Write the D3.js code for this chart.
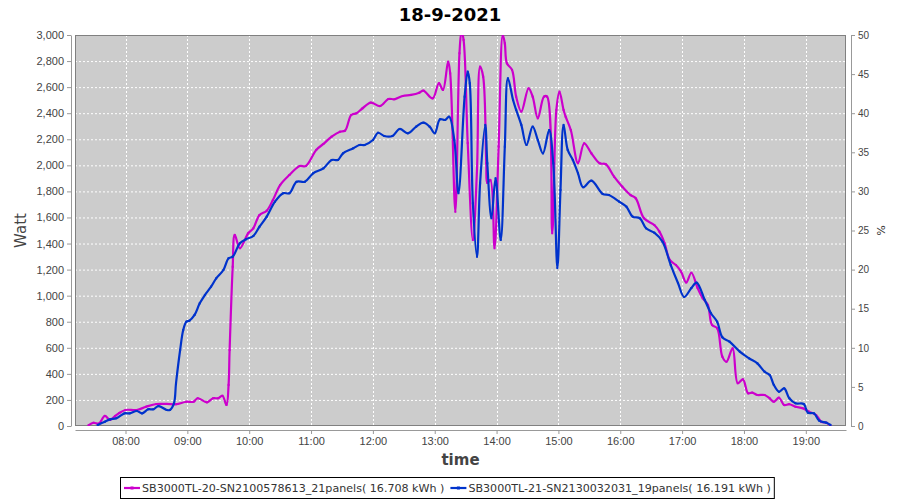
<!DOCTYPE html>
<html>
<head>
<meta charset="utf-8">
<script src="https://cdn.jsdelivr.net/npm/d3@7"></script>
<style>
  body { margin: 0; background: #fff; }
  svg { font-family: "DejaVu Sans", sans-serif; }
  .grid line { stroke: #fff; stroke-dasharray: 2,2; stroke-width: 1; }
  .axis path, .axis line { stroke: #999; }
  .axis text { fill: #444; font-size: 11px; }
  .raxis text { font-family: "Liberation Sans", sans-serif; font-size: 10px; }
</style>
</head>
<body>
<div class="chart-container"></div>
<script>
//! DATA
const TITLE = '18-9-2021';
const DAY = '2021-09-18';
const Y_TICKS = d3.range(0, 3001, 200);
const PCT_TICKS = d3.range(0, 51, 5);
const X_TICKS = ['08:00','09:00','10:00','11:00','12:00','13:00','14:00','15:00','16:00','17:00','18:00','19:00'];
const SERIES_NAMES = [
  'SB3000TL-20-SN2100578613_21panels( 16.708 kWh )',
  'SB3000TL-21-SN2130032031_19panels( 16.191 kWh )'
];

const magentaTimes = ['07:24','07:29','07:34','07:40','07:45','07:50','07:54','08:00','08:11','08:20','08:30','08:40','08:49','08:59','09:06','09:10','09:19','09:25','09:30','09:34','09:38','09:40','09:41','09:44','09:46','09:51','09:59','10:04','10:10','10:17','10:23','10:30','10:39','10:49','10:55','11:05','11:12','11:20','11:28','11:33','11:39','11:44','11:50','11:58','12:07','12:15','12:21','12:29','12:37','12:45','12:49','12:58','13:04','13:08','13:13','13:15','13:20','13:24','13:26','13:28','13:32','13:37','13:41','13:44','13:47','13:50','13:51','13:54','13:58','14:02','14:06','14:08','14:10','14:15','14:19','14:24','14:31','14:35','14:40','14:46','14:49','14:54','14:58','15:01','15:05','15:07','15:12','15:19','15:25','15:32','15:40','15:46','15:54','16:02','16:10','16:15','16:23','16:33','16:38','16:43','16:48','16:54','16:59','17:04','17:09','17:15','17:20','17:25','17:29','17:34','17:39','17:43','17:49','17:54','17:59','18:04','18:08','18:13','18:20','18:25','18:29','18:34','18:39','18:44','18:50','18:57','19:03','19:10','19:15','19:20','19:24'];
const magentaWatts = [5,25,18,77,46,77,100,123,123,148,169,169,167,186,186,213,182,213,213,232,161,315,583,1222,1466,1364,1479,1517,1619,1652,1734,1849,1926,1995,1995,2118,2164,2220,2258,2266,2386,2399,2438,2481,2455,2509,2507,2532,2540,2557,2573,2514,2630,2578,2795,2706,1644,2860,3030,2962,2171,1427,1964,2757,2680,2016,1865,1888,1364,2143,3000,2936,2783,2732,2527,2412,2591,2527,2361,2527,2527,1479,2425,2565,2425,2373,2271,2016,2169,2092,2016,2008,1913,1836,1772,1747,1594,1542,1491,1402,1274,1235,1184,1101,1176,1059,980,928,775,750,532,493,596,328,358,251,256,238,238,212,186,217,161,167,148,136,110,84,33,25,2];

const blueTimes = ['07:33','07:40','07:45','07:51','07:59','08:04','08:11','08:16','08:22','08:27','08:32','08:40','08:43','08:47','08:49','08:53','08:56','08:59','09:02','09:07','09:12','09:17','09:23','09:28','09:35','09:40','09:44','09:51','09:57','10:04','10:10','10:17','10:25','10:33','10:39','10:46','10:54','11:02','11:12','11:20','11:26','11:31','11:41','11:47','11:52','12:00','12:05','12:11','12:19','12:26','12:34','12:42','12:49','12:55','13:00','13:05','13:10','13:14','13:19','13:23','13:29','13:32','13:34','13:37','13:41','13:44','13:49','13:51','13:55','13:59','14:04','14:08','14:11','14:16','14:19','14:24','14:29','14:35','14:40','14:45','14:51','14:55','14:59','15:02','15:05','15:09','15:14','15:19','15:24','15:32','15:43','15:49','15:59','16:06','16:12','16:19','16:25','16:33','16:41','16:49','16:56','17:02','17:09','17:14','17:22','17:28','17:34','17:39','17:46','17:56','18:05','18:13','18:20','18:25','18:29','18:34','18:39','18:44','18:50','18:58','19:02','19:08','19:13','19:20','19:24'];
const blueWatts = [8,33,51,59,97,97,115,97,128,128,153,123,123,174,328,583,737,800,808,852,941,1005,1069,1133,1197,1287,1299,1402,1433,1458,1529,1606,1721,1786,1786,1874,1874,1939,1977,2041,2041,2092,2131,2156,2156,2194,2250,2225,2225,2279,2246,2297,2327,2297,2246,2353,2348,2373,2194,1786,2527,2719,2630,1709,1299,1862,2310,2016,1594,1901,1427,2143,2668,2501,2425,2310,2156,2297,2194,2092,2271,2016,1212,1811,2310,2118,2041,1939,1832,1882,1780,1772,1721,1683,1606,1594,1517,1483,1414,1235,1097,990,1059,1100,967,865,800,681,647,570,519,481,417,391,315,263,289,213,174,169,102,97,41,25,8];

const COLORS = ['#cc00cc', '#0033cc'];

//! CONSTS
const WIDTH = 900;
const HEIGHT = 500;
const PLOT = { left: 75, right: 846, top: 35, bottom: 426 };

const parseTime = d3.timeParse('%Y-%m-%d %H:%M');
const toDate = t => parseTime(`${DAY} ${t}`);

const svg = d3.select('.chart-container')
  .append('svg')
  .attr('width', WIDTH)
  .attr('height', HEIGHT);

// scales
const x = d3.scaleTime()
  .domain([toDate('07:11'), toDate('19:39')])
  .range([PLOT.left, PLOT.right]);
const y = d3.scaleLinear().domain([0, 3000]).range([PLOT.bottom, PLOT.top]);
const yPct = d3.scaleLinear().domain([0, 50]).range([PLOT.bottom, PLOT.top]);

// title
svg.append('text')
  .attr('x', 450).attr('y', 21)
  .attr('text-anchor', 'middle')
  .style('font-size', '18px').style('font-weight', 'bold')
  .text(TITLE);

// plot background
svg.append('rect')
  .attr('x', PLOT.left).attr('y', PLOT.top)
  .attr('width', PLOT.right - PLOT.left).attr('height', PLOT.bottom - PLOT.top)
  .attr('fill', '#cccccc');

// grid
const grid = svg.append('g').attr('class', 'grid');
grid.selectAll('.hg')
  .data(Y_TICKS.slice(1))
  .enter().append('line')
  .attr('x1', PLOT.left).attr('x2', PLOT.right)
  .attr('y1', d => y(d) + .5).attr('y2', d => y(d) + .5);
grid.selectAll('.vg')
  .data(X_TICKS.map(toDate))
  .enter().append('line')
  .attr('y1', PLOT.top).attr('y2', PLOT.bottom)
  .attr('x1', d => Math.round(x(d)) + .5).attr('x2', d => Math.round(x(d)) + .5);

// plot outline
svg.append('rect')
  .attr('x', PLOT.left + .5).attr('y', PLOT.top + .5)
  .attr('width', PLOT.right - PLOT.left - 1).attr('height', PLOT.bottom - PLOT.top - 1)
  .attr('fill', 'none').attr('stroke', '#808080');

// axes
svg.append('g')
  .attr('class', 'axis')
  .attr('transform', `translate(${PLOT.left - 4},0)`)
  .call(d3.axisLeft(y).tickValues(Y_TICKS).tickFormat(d3.format(',')).tickSize(4).tickSizeOuter(0).tickPadding(3));

svg.append('g')
  .attr('class', 'axis')
  .attr('transform', `translate(0,${PLOT.bottom + 4})`)
  .call(d3.axisBottom(x).tickValues(X_TICKS.map(toDate)).tickFormat(d3.timeFormat('%H:%M')).tickSize(4).tickSizeOuter(0).tickPadding(3));

svg.append('g')
  .attr('class', 'axis raxis')
  .attr('transform', `translate(${PLOT.right + 5},0)`)
  .call(d3.axisRight(yPct).tickValues(PCT_TICKS).tickSize(4).tickSizeOuter(0).tickPadding(3));

svg.selectAll('.axis .domain').attr('stroke', '#999');

// axis labels
svg.append('text')
  .attr('transform', `translate(26,${(PLOT.top + PLOT.bottom) / 2}) rotate(-90)`)
  .attr('text-anchor', 'middle')
  .style('font-size', '15px').style('fill', '#444')
  .text('Watt');

svg.append('text')
  .attr('x', (PLOT.left + PLOT.right) / 2).attr('y', 465)
  .attr('text-anchor', 'middle')
  .style('font-size', '15px').style('font-weight', 'bold').style('fill', '#444')
  .text('time');

svg.append('text')
  .attr('transform', `translate(877,${(PLOT.top + PLOT.bottom) / 2}) rotate(90)`)
  .attr('text-anchor', 'middle')
  .style('font-size', '11px').style('fill', '#333')
  .text('%');

// series
svg.append('clipPath').attr('id', 'clip')
  .append('rect')
  .attr('x', PLOT.left).attr('y', PLOT.top)
  .attr('width', PLOT.right - PLOT.left).attr('height', PLOT.bottom - PLOT.top);

const series = [
  { times: magentaTimes, watts: magentaWatts, color: COLORS[0] },
  { times: blueTimes, watts: blueWatts, color: COLORS[1] }
];

const line = d3.line()
  .x(d => x(d[0]))
  .y(d => y(d[1]))
  .curve(d3.curveCatmullRom.alpha(0.5));

const lines = svg.append('g').attr('clip-path', 'url(#clip)');
series.forEach(s => {
  const pts = s.times.map((t, i) => [toDate(t), s.watts[i]]);
  lines.append('path')
    .datum(pts)
    .attr('d', line)
    .attr('fill', 'none')
    .attr('stroke', s.color)
    .attr('stroke-width', 2.2)
    .attr('stroke-linejoin', 'round');
  lines.selectAll(null)
    .data(pts)
    .enter().append('rect')
    .attr('x', d => x(d[0]) - 1).attr('y', d => y(d[1]) - 1)
    .attr('width', 2).attr('height', 2)
    .attr('fill', s.color);
});

// legend
const legend = svg.append('g').attr('class', 'legend');
const legendBox = legend.append('rect')
  .attr('fill', '#fff').attr('stroke', '#000');
let cx = 124;
SERIES_NAMES.forEach((name, i) => {
  legend.append('line')
    .attr('x1', cx).attr('x2', cx + 16)
    .attr('y1', 488).attr('y2', 488)
    .attr('stroke', COLORS[i]).attr('stroke-width', 2.2);
  legend.append('rect')
    .attr('x', cx + 6.5).attr('y', 486.5).attr('width', 3).attr('height', 3)
    .attr('fill', COLORS[i]);
  const txt = legend.append('text')
    .attr('x', cx + 18).attr('y', 492)
    .style('font-size', '11.1px').style('fill', '#333')
    .text(name);
  cx += 18 + txt.node().getComputedTextLength() + 6;
});
legendBox
  .attr('x', 120.5).attr('y', 477.5)
  .attr('width', cx - 120 - 3).attr('height', 21);
</script>
</body>
</html>
